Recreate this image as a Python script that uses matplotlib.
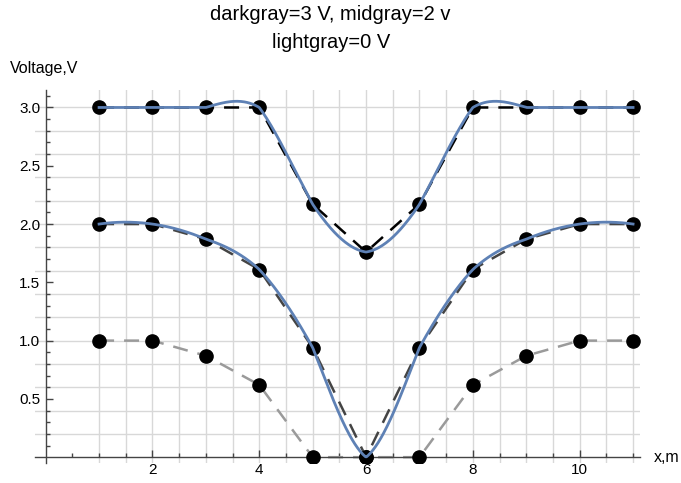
"""Voltage profiles along x for three boundary settings, with cubic interpolation."""

import numpy as np
import matplotlib

matplotlib.use("Agg")
import matplotlib.pyplot as plt

plt.rcParams["font.family"] = ["Liberation Sans", "DejaVu Sans"]

# data
x_pts = [1, 2, 3, 4, 5, 6, 7, 8, 9, 10, 11]
v_dark = [3.0, 3.0, 3.0, 3.0, 2.17, 1.76, 2.17, 3.0, 3.0, 3.0, 3.0]
v_mid = [2.0, 2.0, 1.87, 1.61, 0.94, 0.0, 0.94, 1.61, 1.87, 2.0, 2.0]
v_light = [1.0, 1.0, 0.87, 0.62, 0.0, 0.0, 0.0, 0.62, 0.87, 1.0, 1.0]

x_ticks = [2, 4, 6, 8, 10]
y_ticks = [0.5, 1.0, 1.5, 2.0, 2.5, 3.0]
title_1 = "darkgray=3 V, midgray=2 v"
title_2 = "lightgray=0 V"

BLUE = "#5E81B5"
GRID = "#D8D8D8"
AXIS = "#444444"


def piecewise_cubic(xs, ys, t):
    """Local 4-point cubic (Lagrange) interpolation, like Interpolation[] order 3."""
    xs = np.asarray(xs, float)
    ys = np.asarray(ys, float)
    n = len(xs)
    out = np.empty_like(t)
    for k, tv in enumerate(t):
        i = np.clip(np.searchsorted(xs, tv) - 1, 0, n - 2)
        s = int(np.clip(i - 1, 0, n - 4))
        px, py = xs[s:s + 4], ys[s:s + 4]
        val = 0.0
        for a in range(4):
            w = 1.0
            for b in range(4):
                if a != b:
                    w *= (tv - px[b]) / (px[a] - px[b])
            val += w * py[a]
        out[k] = val
    return out


fig = plt.figure(figsize=(6.81, 4.83), dpi=100)
ax = fig.add_axes([35 / 681, 20 / 483, 605 / 681, 373 / 483])
ax.set_xlim(-0.2, 11.13)
ax.set_ylim(-0.05, 3.15)

# grid
for gx in np.arange(1, 11.01, 0.5):
    ax.axvline(gx, color=GRID, lw=1.0, zorder=0)
for gy in np.arange(0.2, 3.01, 0.2):
    ax.axhline(gy, color=GRID, lw=1.0, zorder=0)

dash = (0, (6, 4))
ax.plot(x_pts, v_light, color="#9A9A9A", lw=1.8, ls=dash, zorder=2)
ax.plot(x_pts, v_mid, color="#444444", lw=1.8, ls=dash, zorder=2)
ax.plot(x_pts, v_dark, color="black", lw=1.8, ls=dash, zorder=2)
for ys in (v_light, v_mid, v_dark):
    ax.plot(x_pts, ys, ls="none", marker="o", ms=9.5, color="black", zorder=3)

t = np.linspace(x_pts[0], x_pts[-1], 600)
ax.plot(t, piecewise_cubic(x_pts, v_dark, t), color=BLUE, lw=2.0, zorder=4)
ax.plot(t, piecewise_cubic(x_pts, v_mid, t), color=BLUE, lw=2.0, zorder=4)

# mathematica-style axes through the origin
for side in ("top", "right"):
    ax.spines[side].set_visible(False)
ax.spines["left"].set_position(("data", 0))
ax.spines["bottom"].set_position(("data", 0))
for side in ("left", "bottom"):
    ax.spines[side].set_color(AXIS)
    ax.spines[side].set_linewidth(1.0)
    ax.spines[side].set_zorder(2.5)

ax.set_xticks(x_ticks)
ax.set_xticks(np.arange(0.5, 11.01, 0.5), minor=True)
ax.set_yticks(y_ticks)
ax.set_yticks(np.arange(0.1, 3.11, 0.1), minor=True)
ax.set_xticklabels([str(v) for v in x_ticks])
ax.set_yticklabels([f"{v:.1f}" for v in y_ticks])
ax.tick_params(which="major", direction="in", length=5, width=1.0,
               color=AXIS, labelsize=11, pad=4)
ax.tick_params(which="minor", direction="in", length=3, width=1.0, color=AXIS)

fig.text(10 / 681, 1 - 68 / 483, "Voltage,V", fontsize=11.5, va="center", ha="left")
fig.text(654 / 681, 1 - 457 / 483, "x,m", fontsize=11.5, va="center", ha="left")
tx = 0.5 * (35 + 640) / 681 - 0.01
fig.text(tx, 1 - 14 / 483, title_1, fontsize=14.5, ha="center", va="center")
fig.text(tx, 1 - 42 / 483, title_2, fontsize=14.5, ha="center", va="center")

fig.savefig("out.png", dpi=100)
